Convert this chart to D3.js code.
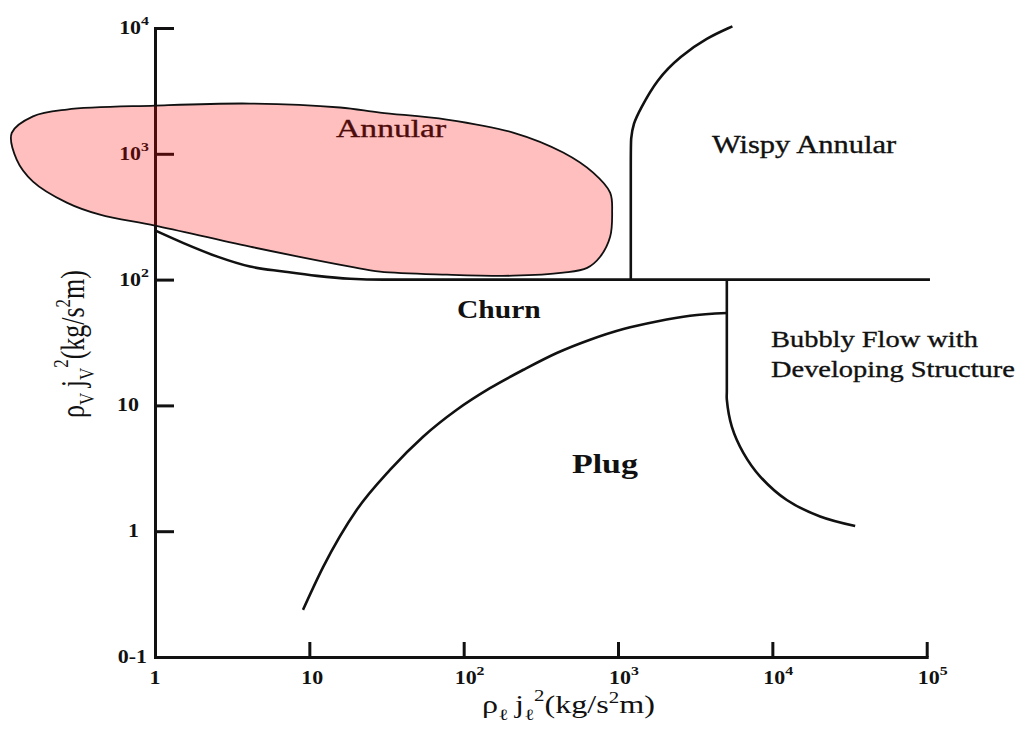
<!DOCTYPE html>
<html>
<head>
<meta charset="utf-8">
<script src="https://cdn.jsdelivr.net/npm/d3@7"></script>
<style>
  html, body { margin: 0; padding: 0; background: #fff; }
  svg { display: block; }
</style>
</head>
<body>
<svg id="chart" width="1018" height="753"></svg>
<script>
// ---- Axis ticks (log decades) ----
const xTickValues = [1, 10, 1e2, 1e3, 1e4, 1e5];
const xTickBase   = ["1", "10", "10", "10", "10", "10"];
const xTickExp    = ["", "", "2", "3", "4", "5"];
const yTickValues = [0.1, 1, 10, 1e2, 1e3, 1e4];
const yTickBase   = ["0-1", "1", "10", "10", "10", "10"];
const yTickExp    = ["", "", "", "2", "3", "4"];

// ---- Regime boundaries (liquid flux, vapour flux in kg/s²m) ----
// Annular envelope, traced as a closed loop
const annularX = [0.118, 0.162, 0.268, 1, 4.13, 15.8, 28.7, 77.7, 209, 441, 690, 889, 916, 889, 766, 631, 441, 209, 78, 28.7, 18.4, 4.13, 1, 0.44, 0.268, 0.162, 0.127];
const annularY = [1466, 1986, 2249, 2417, 2508, 2333, 2128, 1871, 1475, 1023, 708, 491, 341, 219, 152, 124, 113.5, 107.4, 109.4, 115.6, 126.7, 182.7, 268.5, 328, 409, 601, 899];
// Upper churn boundary, levelling off at 100 and running to the right edge
const churnX = [1, 1.53, 2.51, 4.13, 6.78, 11.2, 18.4, 30.2, 60, 105000];
const churnY = [246, 195, 153, 127, 116, 107, 101.6, 100, 100, 100];
// Wispy annular boundary: vertical rise, then bending over to the right
const wispyX = [1210, 1210, 1210, 1210, 1256, 1390, 1780, 2530, 3770, 5510];
const wispyY = [100, 100, 1100, 1297, 1747, 2250, 3890, 5970, 8360, 10300];
// Plug / churn boundary
const plugX = [9.1, 12.3, 20.3, 33.3, 54.8, 90.2, 148, 244, 401, 659, 1084, 1782, 2931, 5070];
const plugY = [0.237, 0.52, 1.48, 3.07, 5.66, 9.23, 13.7, 19.2, 26.1, 33.3, 40.5, 46.5, 51.6, 54.2];
// Bubbly boundary: vertical drop, then sweeping out to the right
const bubblyX = [5070, 5070, 5070, 5460, 6500, 8340, 12400, 20400, 34400];
const bubblyY = [100, 13, 11.1, 6.79, 4.18, 2.72, 1.77, 1.31, 1.10];

// ---- Region names and where they sit (data coordinates, left / baseline) ----
const regionNames   = ["Annular", "Wispy Annular", "Churn", "Plug", "Bubbly Flow with", "Developing Structure"];
const regionAnchorX = [14.9, 4064, 90.5, 503, 9800, 9800];
const regionAnchorY = [1361, 1014, 49.5, 2.90, 29.1, 16.8];

// ================= drawing =================
const svg = d3.select("#chart");
const INK = "#111";
const SERIF = "Liberation Serif, Times New Roman, Times, serif";

const x = d3.scaleLog().domain([1, 1e5]).range([155, 926.7]);
const y = d3.scaleLog().domain([0.1, 1e4]).range([657, 28]);

// helper: text stretched to a target width along its baseline
function fitText(g, px, py, targetW, yStretch) {
  const w = g.node().getBBox().width;
  g.attr("transform", `translate(${px},${py}) scale(${targetW / w},${yStretch || 1})`);
}

// ---- axes ----
const gy = svg.append("g")
  .attr("transform", `translate(${x(1)},0)`)
  .call(d3.axisLeft(y).tickValues(yTickValues.filter(v => v > 0.1))
    .tickSizeInner(-19).tickSizeOuter(0).tickFormat(""));
const gx = svg.append("g")
  .attr("transform", `translate(0,${y(0.1)})`)
  .call(d3.axisBottom(x).tickValues(xTickValues.filter(v => v > 1))
    .tickSizeInner(-15).tickSizeOuter(0).tickFormat(""));
[gx, gy].forEach(g => {
  g.select(".domain").attr("stroke", INK).attr("stroke-width", 3).attr("stroke-linecap", "square");
  g.selectAll(".tick line").attr("stroke", INK).attr("stroke-width", 3);
});

// ---- tick labels ----
const SX = 1.22;
function tickLabel(px, py, anchor, base, exp) {
  const t = svg.append("text")
    .attr("transform", `translate(${px},${py}) scale(${SX},1)`)
    .attr("text-anchor", anchor)
    .attr("font-family", SERIF).attr("font-size", 18).attr("font-weight", "bold")
    .attr("fill", INK);
  t.append("tspan").text(base);
  if (exp) t.append("tspan").attr("font-size", 13).attr("dy", -9).text(exp);
}
yTickValues.forEach((v, i) => {
  const exp = yTickExp[i], base = yTickBase[i];
  const gap = exp ? 6 : (base.length > 2 ? 8 : 16);
  tickLabel(x(1) - gap, y(v) + 6, "end", base, exp);
});
xTickValues.forEach((v, i) => {
  const exp = xTickExp[i], base = xTickBase[i];
  if (exp) tickLabel(x(v) - 9, y(0.1) + 27, "start", base, exp);
  else tickLabel(x(v) + (base.length > 1 ? 3 : 0), y(0.1) + 27, "middle", base, exp);
});

// ---- axis titles ----
function fluxTitle(sub) {
  const t = svg.append("text")
    .attr("font-family", SERIF).attr("font-size", 23).attr("fill", INK);
  t.append("tspan").text("ρ");
  t.append("tspan").attr("font-size", 15).attr("dy", 7).text(sub);
  t.append("tspan").attr("dy", -7).attr("dx", 5).text("j");
  t.append("tspan").attr("font-size", 15).attr("dy", 7).text(sub);
  t.append("tspan").attr("font-size", 15).attr("dy", -18).text("2");
  t.append("tspan").attr("dy", 11).text("(kg/s");
  t.append("tspan").attr("font-size", 15).attr("dy", -10).text("2");
  t.append("tspan").attr("dy", 10).text("m)");
  return t;
}
const xTitle = fluxTitle("ℓ");
fitText(xTitle, 482, 713, 173, 1.05);

const yTitle = fluxTitle("V");
// rotated title, centred on y ≈ 344
(function () {
  const w = yTitle.node().getBBox().width;
  const L = 148;
  yTitle.attr("transform", `translate(84,${344 + L / 2}) rotate(-90) scale(${L / w},1.45)`);
})();

// ---- region labels ----
const regionWidths = [111, 185, 84, 66, 207, 244];
const regionSizes  = [25, 25, 25, 28, 24, 24];
const regionBold   = [false, false, true, true, false, false];
regionNames.forEach((name, i) => {
  const t = svg.append("text")
    .attr("font-family", SERIF).attr("font-size", regionSizes[i])
    .attr("font-weight", regionBold[i] ? "bold" : "normal")
    .attr("fill", INK).attr("stroke", INK).attr("stroke-width", regionBold[i] ? 0 : 0.35)
    .text(name);
  fitText(t, x(regionAnchorX[i]), y(regionAnchorY[i]), regionWidths[i]);
});

// ---- boundary lines ----
const zip = (xs, ys) => xs.map((d, i) => [d, ys[i]]);
const lineX = d3.line().x(d => x(d[0])).y(d => y(d[1])).curve(d3.curveMonotoneX);
const lineC = d3.line().x(d => x(d[0])).y(d => y(d[1])).curve(d3.curveCatmullRom.alpha(0.5));
const lineB = d3.line().x(d => x(d[0])).y(d => y(d[1])).curve(d3.curveBasis);
const bounds = svg.append("g").attr("fill", "none").attr("stroke", INK).attr("stroke-width", 2.6);
bounds.append("path").attr("d", lineX(zip(churnX, churnY)));
bounds.append("path").attr("d", lineX(zip(plugX, plugY)));
bounds.append("path").attr("d", lineB(zip(wispyX, wispyY)));
bounds.append("path").attr("d", lineC(zip(bubblyX, bubblyY)));

// ---- annular envelope, translucent over everything beneath ----
const loop = d3.line().x(d => x(d[0])).y(d => y(d[1])).curve(d3.curveCatmullRomClosed.alpha(0.5));
svg.append("path")
  .attr("d", loop(zip(annularX, annularY)))
  .attr("fill", "rgba(255,0,0,0.25)")
  .attr("stroke", INK).attr("stroke-width", 1.8);
</script>
</body>
</html>
